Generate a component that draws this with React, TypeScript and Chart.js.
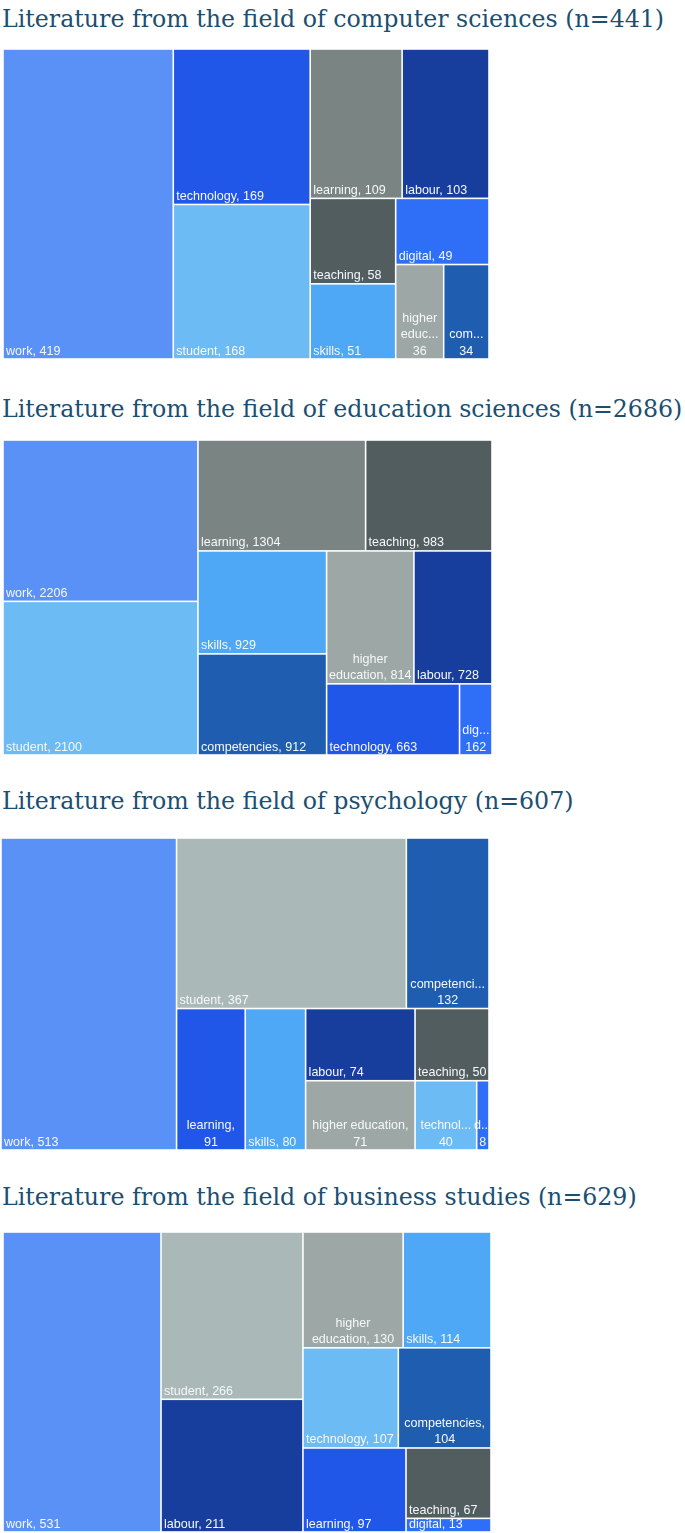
import React, { useEffect, useRef } from "react";
import { Chart, registerables } from "chart.js";

Chart.register(...registerables);

// ---------------- Data ----------------
const CS_TERMS = ["work", "technology", "student", "learning", "labour", "teaching", "skills", "digital", "higher education", "competencies"];
const CS_COUNTS = [419, 169, 168, 109, 103, 58, 51, 49, 36, 34];

const EDU_TERMS = ["work", "student", "learning", "teaching", "skills", "competencies", "higher education", "labour", "technology", "digital"];
const EDU_COUNTS = [2206, 2100, 1304, 983, 929, 912, 814, 728, 663, 162];

const PSY_TERMS = ["work", "student", "competencies", "learning", "skills", "labour", "higher education", "teaching", "technology", "digital"];
const PSY_COUNTS = [513, 367, 132, 91, 80, 74, 71, 50, 40, 8];

const BUS_TERMS = ["work", "student", "labour", "higher education", "skills", "technology", "competencies", "learning", "teaching", "digital"];
const BUS_COUNTS = [531, 266, 211, 130, 114, 107, 104, 97, 67, 13];

const TITLES = [
  "Literature from the field of computer sciences (n=441)",
  "Literature from the field of education sciences (n=2686)",
  "Literature from the field of psychology (n=607)",
  "Literature from the field of business studies (n=629)",
];

// Strip grouping of the treemap (how many consecutive terms share a strip, and its direction)
const CS_STRIP_DIRS = ["col", "col", "row", "col", "row", "row"];
const CS_STRIP_SIZES = [1, 2, 2, 2, 1, 2];
const EDU_STRIP_DIRS = ["col", "row", "col", "row", "col", "col"];
const EDU_STRIP_SIZES = [2, 2, 2, 2, 1, 1];
const PSY_STRIP_DIRS = ["col", "row", "col", "col", "col", "row", "col", "col"];
const PSY_STRIP_SIZES = [1, 2, 1, 1, 2, 1, 1, 1];
const BUS_STRIP_DIRS = ["col", "col", "row", "row", "col", "row", "row"];
const BUS_STRIP_SIZES = [1, 2, 2, 2, 1, 1, 1];

// ---------------- Styles ----------------
const BLUE = "#5991F6";
const ROYAL = "#2157E8";
const LIGHT = "#6DBBF5";
const GRAY = "#7A8583";
const NAVY = "#173E9C";
const DARK = "#525D5F";
const SKY = "#4EA8F5";
const BRIGHT = "#2F6EF6";
const SILVER = "#9DA7A6";
const COBALT = "#1E5DB0";
const SAGE = "#AAB9B8";

const CS_COLORS = [BLUE, ROYAL, LIGHT, GRAY, NAVY, DARK, SKY, BRIGHT, SILVER, COBALT];
const EDU_COLORS = [BLUE, LIGHT, GRAY, DARK, SKY, COBALT, SILVER, NAVY, ROYAL, BRIGHT];
const PSY_COLORS = [BLUE, SAGE, COBALT, ROYAL, SKY, NAVY, SILVER, DARK, LIGHT, BRIGHT];
const BUS_COLORS = [BLUE, SAGE, NAVY, SILVER, SKY, LIGHT, COBALT, ROYAL, DARK, BRIGHT];

const TITLE_COLOR = "#1B4F72";
const LABEL_COLOR = "#F6F8FA";
const LABEL_FONT = "12.55px 'Liberation Sans', Arial, sans-serif";

type Cell = { x0: number; x1: number; y0: number; y1: number };

// Lays the values out in unit space: each strip takes its share of what is left.
function layoutCells(values: number[], dirs: string[], sizes: number[]): Cell[] {
  let x = 0, y = 0, w = 1, h = 1;
  let idx = 0;
  let remaining = values.reduce((a, b) => a + b, 0);
  const cells: Cell[] = [];
  for (let s = 0; s < dirs.length; s++) {
    const group = values.slice(idx, idx + sizes[s]);
    const gs = group.reduce((a, b) => a + b, 0);
    const frac = gs / remaining;
    if (dirs[s] === "col") {
      const cw = w * frac;
      let yy = y;
      for (const v of group) {
        const ch = (h * v) / gs;
        cells.push({ x0: x, x1: x + cw, y0: yy, y1: yy + ch });
        yy += ch;
      }
      x += cw;
      w -= cw;
    } else {
      const rh = h * frac;
      let xx = x;
      for (const v of group) {
        const cw = (w * v) / gs;
        cells.push({ x0: xx, x1: xx + cw, y0: y, y1: y + rh });
        xx += cw;
      }
      y += rh;
      h -= rh;
    }
    idx += sizes[s];
    remaining -= gs;
  }
  return cells;
}

function measure(ctx: CanvasRenderingContext2D, t: string): number {
  return ctx.measureText(t).width;
}

function truncate(ctx: CanvasRenderingContext2D, word: string, avail: number): string {
  if (measure(ctx, word) <= avail || /^\d+$/.test(word)) return word;
  let n = word.length - 1;
  while (n > 1 && measure(ctx, word.slice(0, n) + "...") > avail) n--;
  return word.slice(0, Math.max(1, n)) + "...";
}

function wrapLabel(ctx: CanvasRenderingContext2D, text: string, avail: number): string[] {
  const words = text.split(" ");
  const lines: string[] = [];
  let cur = "";
  for (const wd of words) {
    const trial = cur ? cur + " " + wd : wd;
    if (measure(ctx, trial) <= avail) {
      cur = trial;
    } else {
      if (cur) lines.push(cur);
      cur = wd;
    }
  }
  if (cur) lines.push(cur);
  return lines.map((l) => truncate(ctx, l, avail));
}

type TreemapProps = {
  terms: string[];
  counts: number[];
  colors: string[];
  dirs: string[];
  sizes: number[];
  left: number;
  top: number;
  width: number;
  height: number;
};

function Treemap({ terms, counts, colors, dirs, sizes, left, top, width, height }: TreemapProps) {
  const ref = useRef<HTMLCanvasElement>(null);
  useEffect(() => {
    if (!ref.current) return;
    const cells = layoutCells(counts, dirs, sizes);
    const cellPlugin = {
      id: "treemapCells",
      afterDatasetsDraw(ch: any) {
        const xs = ch.scales.x;
        const ys = ch.scales.y;
        const ctx: CanvasRenderingContext2D = ch.ctx;
        ctx.save();
        const g = 0.8;
        cells.forEach((c, i) => {
          const px0 = xs.getPixelForValue(c.x0);
          const px1 = xs.getPixelForValue(c.x1);
          const py0 = ys.getPixelForValue(c.y0);
          const py1 = ys.getPixelForValue(c.y1);
          ctx.fillStyle = colors[i];
          ctx.fillRect(px0 + g, py0 + g, px1 - px0 - 2 * g, py1 - py0 - 2 * g);
        });
        ctx.font = LABEL_FONT;
        ctx.fillStyle = LABEL_COLOR;
        ctx.textBaseline = "alphabetic";
        cells.forEach((c, i) => {
          const px0 = xs.getPixelForValue(c.x0);
          const px1 = xs.getPixelForValue(c.x1);
          const py1 = ys.getPixelForValue(c.y1);
          const avail = px1 - px0 - 4.5;
          const full = `${terms[i]}, ${counts[i]}`;
          const base = py1 - 4.5;
          if (measure(ctx, full) <= avail) {
            ctx.textAlign = "left";
            ctx.fillText(full, px0 + 3, base);
          } else {
            const lines = wrapLabel(ctx, full, avail);
            const cx = (px0 + px1) / 2;
            const lh = 16.5;
            ctx.textAlign = "center";
            lines.forEach((ln, k) => {
              ctx.fillText(ln, cx, base - (lines.length - 1 - k) * lh);
            });
          }
        });
        ctx.restore();
      },
    };
    const chart = new Chart(ref.current, {
      type: "scatter",
      data: {
        datasets: [
          {
            data: cells.map((c) => ({ x: (c.x0 + c.x1) / 2, y: (c.y0 + c.y1) / 2 })),
            pointRadius: 0,
            pointHoverRadius: 0,
          },
        ],
      },
      options: {
        animation: false,
        responsive: true,
        maintainAspectRatio: false,
        events: [],
        layout: { padding: 0 },
        plugins: { legend: { display: false }, tooltip: { enabled: false } },
        scales: {
          x: { type: "linear", min: 0, max: 1, display: false },
          y: { type: "linear", min: 0, max: 1, reverse: true, display: false },
        },
      },
      plugins: [cellPlugin],
    });
    return () => chart.destroy();
  }, [terms, counts, colors, dirs, sizes]);
  return (
    <div style={{ position: "absolute", left, top, width, height }}>
      <canvas ref={ref} />
    </div>
  );
}

function Title({ text, top }: { text: string; top: number }) {
  return (
    <div
      style={{
        position: "absolute",
        left: 2,
        top,
        whiteSpace: "nowrap",
        fontFamily: "'DejaVu Serif', serif",
        fontSize: 23.7,
        lineHeight: "24px",
        color: TITLE_COLOR,
      }}
    >
      {text}
    </div>
  );
}

export default function App() {
  return (
    <div style={{ position: "absolute", left: 0, top: 0, width: 685, height: 1533, background: "#fff" }}>
      <Title text={TITLES[0]} top={7} />
      <Treemap terms={CS_TERMS} counts={CS_COUNTS} colors={CS_COLORS} dirs={CS_STRIP_DIRS} sizes={CS_STRIP_SIZES} left={3} top={49} width={486} height={310} />
      <Title text={TITLES[1]} top={397} />
      <Treemap terms={EDU_TERMS} counts={EDU_COUNTS} colors={EDU_COLORS} dirs={EDU_STRIP_DIRS} sizes={EDU_STRIP_SIZES} left={3} top={440} width={489} height={315} />
      <Title text={TITLES[2]} top={789} />
      <Treemap terms={PSY_TERMS} counts={PSY_COUNTS} colors={PSY_COLORS} dirs={PSY_STRIP_DIRS} sizes={PSY_STRIP_SIZES} left={1} top={838} width={488} height={312} />
      <Title text={TITLES[3]} top={1185} />
      <Treemap terms={BUS_TERMS} counts={BUS_COUNTS} colors={BUS_COLORS} dirs={BUS_STRIP_DIRS} sizes={BUS_STRIP_SIZES} left={3} top={1232} width={488} height={300} />
    </div>
  );
}
